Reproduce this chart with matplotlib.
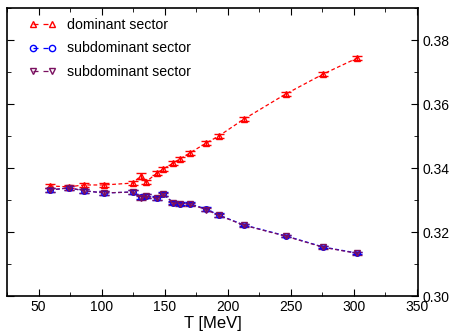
import matplotlib
matplotlib.use("Agg")
import matplotlib.pyplot as plt
from matplotlib.ticker import MultipleLocator
from matplotlib.lines import Line2D

plt.rcParams['font.family'] = ['Liberation Sans', 'DejaVu Sans']

T = [59, 74, 86, 102, 125, 131, 135, 144, 149, 157, 162, 170, 183, 193, 213, 246, 276, 303]
dom = [0.3344, 0.3341, 0.3347, 0.3347, 0.3353, 0.3375, 0.3356, 0.3384, 0.3397, 0.3416, 0.3428, 0.3447, 0.3478, 0.3500, 0.3553, 0.3631, 0.3694, 0.3744]
dom_err = [0.0006, 0.0005, 0.0005, 0.0005, 0.0006, 0.0010, 0.0007, 0.0006, 0.0006, 0.0006, 0.0006, 0.0005, 0.0005, 0.0005, 0.0005, 0.0005, 0.0005, 0.0005]
sub1 = [0.3331, 0.3338, 0.3329, 0.3322, 0.3325, 0.3309, 0.3313, 0.3306, 0.3319, 0.3291, 0.3288, 0.3288, 0.3272, 0.3253, 0.3222, 0.3188, 0.3153, 0.3134]
sub2 = [0.3331, 0.3338, 0.3329, 0.3322, 0.3325, 0.3307, 0.3312, 0.3305, 0.3318, 0.3290, 0.3287, 0.3287, 0.3270, 0.3252, 0.3221, 0.3187, 0.3152, 0.3133]
sub_err = [0.0006, 0.0006, 0.0006, 0.0005, 0.0005, 0.0007, 0.0006, 0.0005, 0.0005, 0.0005, 0.0005, 0.0005, 0.0005, 0.0005, 0.0004, 0.0004, 0.0004, 0.0004]
labels = ['dominant sector', 'subdominant sector', 'subdominant sector']

fig = plt.figure(figsize=(4.52, 3.33), dpi=100)
ax = fig.add_axes([7/452, 1 - 296/333, 411/452, 288/333])

purple = '#7a1060'
styles = [('red', '^', 5), ('blue', 'o', 4), (purple, 'v', 5)]
series = [(dom, dom_err), (sub1, sub_err), (sub2, sub_err)]
handles = []
for (c, m, ms), (y, e), lab in zip(styles, series, labels):
    ax.errorbar(T, y, yerr=e, color=c, marker=m, mfc='none', ms=ms, mew=1,
                ls=(0, (3, 2)), lw=0.9, capsize=3.5, elinewidth=0.9)
    handles.append(Line2D([], [], color=c, marker=m, mfc='none', ms=4.5, mew=1,
                          ls=(0, (4, 4)), lw=0.9, label=lab))

ax.set_xlim(25, 351)
ax.set_ylim(0.30, 0.39)
ax.xaxis.set_major_locator(MultipleLocator(50))
ax.xaxis.set_minor_locator(MultipleLocator(25))
ax.yaxis.set_major_locator(MultipleLocator(0.02))
ax.yaxis.set_minor_locator(MultipleLocator(0.01))
ax.yaxis.tick_right()
ax.tick_params(which='both', direction='in', top=True, bottom=True, left=True, right=True,
               labelsize=10, labelleft=False, labelright=True)
ax.tick_params(which='major', length=5, pad=3)
ax.tick_params(which='minor', length=3)
ax.set_yticks([0.30, 0.32, 0.34, 0.36, 0.38])
ax.set_yticklabels(['0.30', '0.32', '0.34', '0.36', '0.38'])
for s in ax.spines.values():
    s.set_linewidth(1.2)
ax.set_xlabel('T [MeV]', fontsize=12, labelpad=1)

leg = ax.legend(handles=handles, loc='upper left', bbox_to_anchor=(0.039, 0.984),
                frameon=False, fontsize=10.2, numpoints=2, handlelength=1.94,
                handletextpad=0.77, borderaxespad=0, labelspacing=0.65)

fig.savefig('out.png', dpi=100)
